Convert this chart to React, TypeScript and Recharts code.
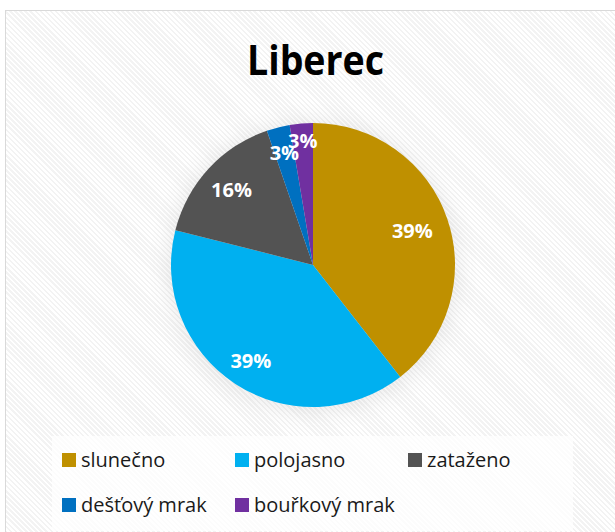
import React from "react";
import { PieChart, Pie, Cell, Legend } from "recharts";

const TITLE = "Liberec";
const CATEGORIES = ["slunečno", "polojasno", "zataženo", "dešťový mrak", "bouřkový mrak"];
const VALUES = [15, 15, 6, 1, 1];
const COLORS = ["#BF9000", "#00B0F0", "#535353", "#0070C0", "#7030A0"];
const LABEL_RADIUS = [0.74, 0.8, 0.78, 0.82, 0.88];

const data = CATEGORIES.map((name, i) => ({ name, value: VALUES[i] }));

const RAD = Math.PI / 180;
const FONT = "'Open Sans', 'Noto Sans', sans-serif";

const renderLabel = (props: any) => {
  const { cx, cy, midAngle, outerRadius, percent, index } = props;
  const r = outerRadius * LABEL_RADIUS[index];
  const x = cx + r * Math.cos(-midAngle * RAD);
  const y = cy + r * Math.sin(-midAngle * RAD);
  return (
    <text
      x={x}
      y={y}
      fill="#ffffff"
      textAnchor="middle"
      dominantBaseline="central"
      fontFamily={FONT}
      fontWeight={700}
      fontSize={20}
    >
      {`${Math.round(percent * 100)}%`}
    </text>
  );
};

const LegendContent = () => (
  <div
    style={{
      width: 521,
      height: 95,
      boxSizing: "border-box",
      background: "rgba(255,255,255,0.75)",
      display: "grid",
      gridTemplateColumns: "repeat(3, 173px)",
      gridAutoRows: "20px",
      rowGap: 24.5,
      paddingLeft: 10,
      paddingTop: 14,
      fontFamily: FONT,
      fontSize: 20,
      color: "#1a1a1a",
    }}
  >
    {CATEGORIES.map((name, i) => (
      <div key={name} style={{ display: "flex", alignItems: "center", height: 20, whiteSpace: "nowrap" }}>
        <span style={{ display: "inline-block", width: 14, height: 14, background: COLORS[i], marginRight: 5 }} />
        <span style={{ lineHeight: "20px" }}>{name}</span>
      </div>
    ))}
  </div>
);

export default function App() {
  return (
    <div
      style={{
        position: "absolute",
        left: 0,
        top: 0,
        width: 615,
        height: 532,
        overflow: "hidden",
        background: "#ffffff",
      }}
    >
      <style>{`.pie-shadow { filter: blur(8px); opacity: 0.35; }`}</style>
      <div
        style={{
          position: "absolute",
          left: 5,
          top: 10,
          width: 650,
          height: 560,
          border: "1px solid #d9d9d9",
          background:
            "repeating-linear-gradient(45deg, #ffffff 0px, #ffffff 1.8px, #f3f3f3 1.8px, #f3f3f3 3.6px)",
        }}
      />
      <svg width={615} height={100} style={{ position: "absolute", left: 0, top: 0 }}>
        <text
          x={315.5}
          y={75}
          textAnchor="middle"
          fontFamily={FONT}
          fontWeight={700}
          fontSize={41}
          textLength={137}
          lengthAdjust="spacingAndGlyphs"
          fill="#000000"
        >
          {TITLE}
        </text>
      </svg>
      <div style={{ position: "absolute", left: 0, top: 0 }}>
        <PieChart width={615} height={532} margin={{ top: 0, right: 0, bottom: 0, left: 0 }}>
          <Pie
            className="pie-shadow"
            data={data}
            dataKey="value"
            nameKey="name"
            cx={313}
            cy={267}
            outerRadius={144}
            startAngle={90}
            endAngle={-270}
            fill="#555555"
            stroke="none"
            legendType="none"
            isAnimationActive={false}
          />
          <Pie
            data={data}
            dataKey="value"
            nameKey="name"
            cx={313}
            cy={265}
            outerRadius={142}
            startAngle={90}
            endAngle={-270}
            stroke="none"
            label={renderLabel}
            labelLine={false}
            isAnimationActive={false}
          >
            {data.map((d, i) => (
              <Cell key={d.name} fill={COLORS[i]} />
            ))}
          </Pie>
          <Legend
            content={<LegendContent />}
            wrapperStyle={{ position: "absolute", left: 52, top: 436, width: 521, height: 95, bottom: "auto" }}
          />
        </PieChart>
      </div>
    </div>
  );
}
